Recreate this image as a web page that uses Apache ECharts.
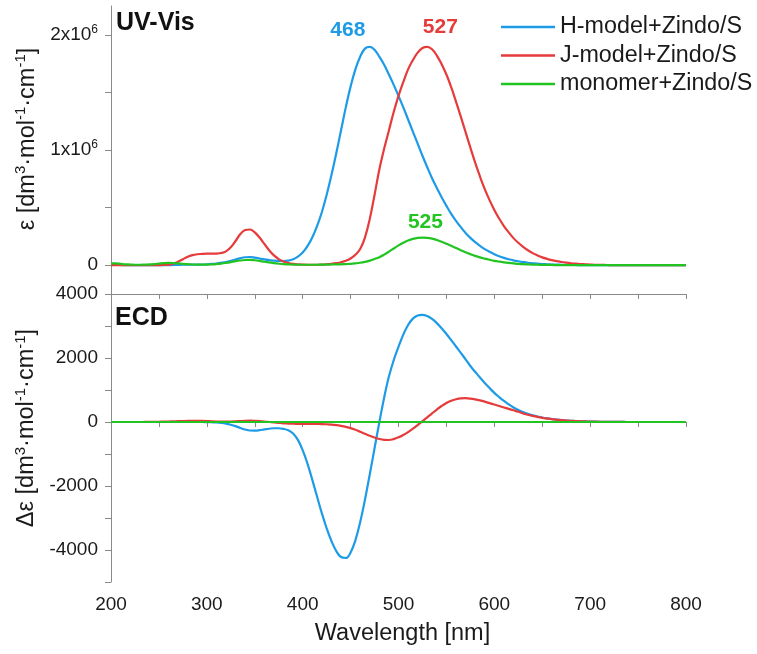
<!DOCTYPE html>
<html>
<head>
<meta charset="utf-8">
<script src="https://cdn.jsdelivr.net/npm/echarts@6/dist/echarts.min.js"></script>
<style>html,body{margin:0;padding:0;background:#fff}#c{width:757px;height:654px}</style>
</head>
<body>
<div id="c"></div>
<script>
// wavelengths 200..800 nm, every 5 nm
const wavelengths = [
200,205,210,215,220,225,230,235,240,245,250,255,260,265,270,275,280,285,290,295,
300,305,310,315,320,325,330,335,340,345,350,355,360,365,370,375,380,385,390,395,
400,405,410,415,420,425,430,435,440,445,450,455,460,465,470,475,480,485,490,495,
500,505,510,515,520,525,530,535,540,545,550,555,560,565,570,575,580,585,590,595,
600,605,610,615,620,625,630,635,640,645,650,655,660,665,670,675,680,685,690,695,
700,705,710,715,720,725,730,735,740,745,750,755,760,765,770,775,780,785,790,795,800];

// UV-Vis, epsilon in units of 1e6 dm3 mol-1 cm-1
const uvH = [
0.002,0.002,0.002,0.001,0.001,0,0,0,0,0,0,0,0.001,0.002,0.003,0.004,0.004,0.005,0.005,0.006,
0.008,0.011,0.015,0.021,0.028,0.038,0.05,0.061,0.069,0.071,0.066,0.058,0.05,0.044,0.04,0.037,0.036,0.04,0.052,0.075,
0.11,0.165,0.24,0.34,0.46,0.61,0.78,0.97,1.17,1.37,1.55,1.70,1.81,1.88,1.895,1.87,1.81,1.74,1.655,1.565,
1.47,1.37,1.265,1.16,1.055,0.95,0.85,0.755,0.67,0.59,0.515,0.445,0.385,0.33,0.28,0.237,0.20,0.168,0.14,0.116,
0.095,0.078,0.064,0.052,0.042,0.034,0.027,0.021,0.017,0.013,0.010,0.008,0.006,0.005,0.004,0.003,0.002,0.002,0.001,0.001,
0.001,0,0,0,0,0,0,0,0,0,0,0,0,0,0,0,0,0,0,0,0];
const uvJ = [
0,0,0,0,0,0,0,0,0,0,0.001,0.002,0.005,0.013,0.03,0.052,0.073,0.087,0.095,0.098,
0.10,0.10,0.101,0.106,0.12,0.155,0.21,0.27,0.305,0.31,0.285,0.24,0.185,0.13,0.085,0.053,0.032,0.019,0.011,0.007,
0.005,0.004,0.004,0.004,0.005,0.008,0.012,0.018,0.026,0.038,0.058,0.09,0.14,0.24,0.40,0.61,0.83,1.01,1.17,1.33,
1.47,1.59,1.70,1.78,1.845,1.885,1.895,1.875,1.82,1.745,1.655,1.545,1.42,1.29,1.155,1.02,0.89,0.77,0.66,0.565,
0.48,0.405,0.34,0.285,0.235,0.195,0.16,0.13,0.105,0.085,0.068,0.055,0.044,0.035,0.028,0.022,0.017,0.013,0.01,0.008,
0.006,0.004,0.003,0.002,0.001,0.001,0,0,0,0,0,0,0,0,0,0,0,0,0,0,0];
const uvMono = [
0.015,0.015,0.012,0.008,0.006,0.004,0.004,0.005,0.007,0.01,0.014,0.018,0.02,0.019,0.016,0.012,0.009,0.006,0.005,0.005,
0.005,0.007,0.01,0.014,0.02,0.027,0.035,0.041,0.045,0.046,0.043,0.037,0.03,0.024,0.018,0.013,0.009,0.007,0.005,0.004,
0.004,0.004,0.004,0.004,0.005,0.005,0.006,0.007,0.008,0.01,0.012,0.016,0.021,0.029,0.04,0.054,0.07,0.092,0.118,0.145,
0.172,0.195,0.214,0.228,0.237,0.24,0.238,0.231,0.219,0.204,0.187,0.168,0.149,0.13,0.112,0.096,0.081,0.068,0.057,0.047,
0.038,0.031,0.025,0.02,0.016,0.012,0.009,0.007,0.005,0.004,0.003,0.002,0.002,0.001,0.001,0,0,0,0,0,
0,0,0,0,0,0,0,0,0,0,0,0,0,0,0,0,0,0,0,0,0];

// ECD, delta epsilon in dm3 mol-1 cm-1
const ecdH = [
0,0,0,0,0,0,0,0,0,0,0,0,0,0,0,0,0,0,0,0,
-3,-8,-15,-28,-50,-85,-130,-185,-235,-265,-268,-255,-232,-210,-195,-195,-215,-260,-360,-560,
-880,-1300,-1800,-2330,-2850,-3320,-3720,-4030,-4220,-4250,-4080,-3700,-3130,-2430,-1640,-820,-10,760,1420,1930,
2350,2730,3030,3230,3330,3350,3310,3220,3090,2930,2750,2560,2360,2160,1960,1750,1570,1390,1220,1060,
910,780,660,550,455,375,310,255,210,172,140,114,92,74,59,47,37,29,22,17,
13,10,7,5,4,3,2,1,0,0,0,0,0,0,0,0,0,0,0,0,0];
const ecdJ = [
0,0,0,0,0,0,0,1,2,4,8,11,15,20,25,30,35,37,38,35,
30,22,15,11,10,13,20,29,37,40,36,27,15,0,-15,-28,-40,-48,-55,-58,
-60,-60,-60,-62,-65,-71,-80,-98,-123,-153,-190,-245,-305,-368,-430,-485,-530,-557,-562,-535,
-480,-405,-315,-210,-95,25,145,270,390,500,595,665,712,738,743,732,708,675,635,590,
545,500,455,410,365,320,265,225,190,158,130,108,88,72,58,46,37,29,23,18,
14,11,8,6,4,3,2,1,0,0,0,0,0,0,0,0,0,0,0,0,0];
const ecdMono = [
0,0,0,0,0,0,0,0,0,0,0,0,0,0,0,0,0,0,0,0,
0,0,0,0,0,0,0,0,0,0,0,0,0,0,0,0,0,0,0,0,
0,0,0,0,0,0,0,0,0,0,0,0,0,0,0,0,0,0,0,0,
0,0,0,0,0,0,0,0,0,0,0,0,0,0,0,0,0,0,0,0,
0,0,0,0,0,0,0,0,0,0,0,0,0,0,0,0,0,0,0,0,
0,0,0,0,0,0,0,0,0,0,0,0,0,0,0,0,0,0,0,0,0];

const seriesNames = ['H-model+Zindo/S','J-model+Zindo/S','monomer+Zindo/S'];
const peakLabels = [{name:'468', x:468, y:1.90}, {name:'527', x:527, y:1.90}, {name:'525', x:525, y:0.24}];
const xTickLabels = [200,300,400,500,600,700,800];
const uvTickLabels = [0,1,2];
const ecdTickLabels = [-4000,-2000,0,2000,4000];

const colors = ['#1E9BE6','#E63B3B','#22C422'];
const FONT = 'Liberation Sans, Arial, sans-serif';
const axisGray = '#8a8a8a';
const textCol = '#1a1a1a';

const pairs = (ys, scale) => wavelengths.map((w, i) => [w, ys[i] * scale]);

const chart = echarts.init(document.getElementById('c'), null, {renderer: 'canvas'});

const supRich = {
  a: {fontSize: 23.5, fontFamily: FONT, color: textCol, lineHeight: 27},
  s: {fontSize: 15, fontFamily: FONT, color: textCol, verticalAlign: 'top', lineHeight: 27}
};
const tickRich = {
  a: {fontSize: 19, fontFamily: FONT, color: textCol, lineHeight: 22},
  s: {fontSize: 12, fontFamily: FONT, color: textCol, verticalAlign: 'top', lineHeight: 22}
};

function mkLine(name, data, color, xi, yi, markLabel, offset) {
  const s = {
    name, type: 'line', xAxisIndex: xi, yAxisIndex: yi, data,
    smooth: 0.4, symbol: 'none', showSymbol: false,
    lineStyle: {color, width: 2.2}, itemStyle: {color},
    animation: false
  };
  if (markLabel) {
    s.markPoint = {
      symbol: 'circle', symbolSize: 0, animation: false,
      label: {show: true, position: 'top', distance: 6, offset: offset,
        formatter: markLabel.name, color, fontWeight: 'bold', fontSize: 21, fontFamily: FONT},
      data: [{coord: [markLabel.x, markLabel.y * 1e6]}]
    };
  }
  return s;
}

const option = {
  animation: false,
  backgroundColor: '#fff',
  textStyle: {fontFamily: FONT},
  grid: [
    {left: 111, right: 71, top: 6, height: 288},
    {left: 111, right: 71, top: 294, height: 288}
  ],
  legend: {
    orient: 'vertical', left: 501, top: 15, itemWidth: 54, itemHeight: 2.5, itemGap: 4.5,
    icon: 'rect', padding: 0, data: seriesNames,
    textStyle: {fontSize: 23.3, lineHeight: 24, fontFamily: FONT, color: textCol}
  },
  xAxis: [
    {gridIndex: 0, type: 'value', min: 200, max: 800, show: false},
    {gridIndex: 1, type: 'value', min: 200, max: 800, interval: 50, position: 'bottom',
      axisLine: {show: true, lineStyle: {color: axisGray, width: 1}},
      axisTick: {show: true, length: 5, lineStyle: {color: axisGray}},
      splitLine: {show: false},
      axisLabel: {fontSize: 19, color: textCol, fontFamily: FONT, margin: 13,
        formatter: v => xTickLabels.includes(v) ? String(v) : ''},
      name: 'Wavelength [nm]', nameLocation: 'middle', nameGap: 40,
      nameTextStyle: {fontSize: 23.5, color: textCol, fontFamily: FONT, padding: [0, 0, 0, 8]}
    },
    {gridIndex: 1, type: 'value', min: 200, max: 800, interval: 50, position: 'top',
      axisLine: {show: true, lineStyle: {color: axisGray, width: 1}},
      axisTick: {show: true, inside: true, length: 5, lineStyle: {color: axisGray}},
      axisLabel: {show: false}, splitLine: {show: false}
    }
  ],
  yAxis: [
    {gridIndex: 0, type: 'value', min: -250000, max: 2250000,
      axisLine: {show: true, lineStyle: {color: axisGray, width: 1}},
      axisTick: {show: true, length: 6, lineStyle: {color: axisGray},
        customValues: [0, 500000, 1000000, 1500000, 2000000]},
      splitLine: {show: false},
      axisLabel: {margin: 13, customValues: uvTickLabels.map(v => v * 1e6),
        formatter: v => v === 0 ? '{a|0}' : '{a|' + (v / 1e6) + 'x10}{s|6}',
        rich: tickRich},
      name: '{a|ε [dm}{s|3}{a|·mol}{s|-1}{a|·cm}{s|-1}{a|]}',
      nameLocation: 'middle', nameGap: 69,
      nameTextStyle: {rich: supRich, padding: [0, 0, 0, 22]}
    },
    {gridIndex: 1, type: 'value', min: -5000, max: 4000, interval: 1000,
      axisLine: {show: true, lineStyle: {color: axisGray, width: 1}},
      axisTick: {show: true, length: 6, lineStyle: {color: axisGray}},
      splitLine: {show: false},
      axisLabel: {margin: 13, fontSize: 19, color: textCol, fontFamily: FONT,
        formatter: v => ecdTickLabels.includes(v) ? String(v) : ''},
      name: '{a|Δε [dm}{s|3}{a|·mol}{s|-1}{a|·cm}{s|-1}{a|]}',
      nameLocation: 'middle', nameGap: 69,
      nameTextStyle: {rich: supRich, padding: [0, 0, 0, 20]}
    }
  ],
  graphic: [
    {type: 'text', left: 116, top: 11, style: {text: 'UV-Vis', font: 'bold 25px ' + FONT, fill: '#111'}},
    {type: 'text', left: 115, top: 306, style: {text: 'ECD', font: 'bold 25px ' + FONT, fill: '#111'}}
  ],
  series: [
    mkLine(seriesNames[0], pairs(uvH, 1e6), colors[0], 0, 0, peakLabels[0], [-20, 0]),
    mkLine(seriesNames[1], pairs(uvJ, 1e6), colors[1], 0, 0, peakLabels[1], [16, -3]),
    mkLine(seriesNames[2], pairs(uvMono, 1e6), colors[2], 0, 0, peakLabels[2], [3, 1]),
    mkLine(seriesNames[0], pairs(ecdH, 1), colors[0], 1, 1),
    mkLine(seriesNames[1], pairs(ecdJ, 1), colors[1], 1, 1),
    mkLine(seriesNames[2], pairs(ecdMono, 1), colors[2], 1, 1)
  ]
};
chart.setOption(option);
</script>
</body>
</html>
